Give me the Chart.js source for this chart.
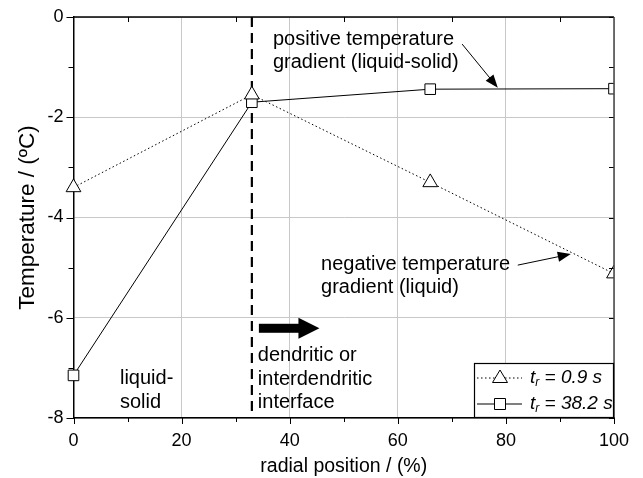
<!DOCTYPE html>
<html>
<head>
<meta charset="utf-8">
<script src="https://cdn.jsdelivr.net/npm/chart.js@4/dist/chart.umd.min.js"></script>
<style>
  html, body { margin: 0; padding: 0; background: #fff; }
  canvas { display: block; }
</style>
</head>
<body>
<canvas id="chart" width="643" height="478"></canvas>
<script>
// radial position (%) of the measuring points
const radialPos = [0, 33, 66, 100];
// t_r = 0.9 s (triangles, dotted)
const tempFast = [-3.4, -1.55, -3.3, -5.12];
// t_r = 38.2 s (squares, solid)
const tempSlow = [-7.15, -1.7, -1.44, -1.43];
// dendritic / interdendritic interface
const interfaceX = [33, 33];
const interfaceY = [0, -8];

const seriesLabels = ['0.9 s', '38.2 s'];

const FONT = '"Liberation Sans", Arial, Helvetica, sans-serif';

const toPoints = (xs, ys) => xs.map((v, i) => ({ x: v, y: ys[i] }));

const arrow = (ctx, x1, y1, x2, y2, len, half) => {
    const ang = Math.atan2(y2 - y1, x2 - x1);
    ctx.beginPath();
    ctx.moveTo(x1, y1);
    ctx.lineTo(x2 - Math.cos(ang) * len * 0.8, y2 - Math.sin(ang) * len * 0.8);
    ctx.stroke();
    ctx.beginPath();
    ctx.moveTo(x2, y2);
    ctx.lineTo(x2 - Math.cos(ang) * len + Math.sin(ang) * half, y2 - Math.sin(ang) * len - Math.cos(ang) * half);
    ctx.lineTo(x2 - Math.cos(ang) * len - Math.sin(ang) * half, y2 - Math.sin(ang) * len + Math.cos(ang) * half);
    ctx.closePath();
    ctx.fill();
};

const notes = [
    { lines: ['positive temperature', 'gradient (liquid-solid)'], at: [36.9, -0.44] },
    { lines: ['negative temperature', 'gradient (liquid)'], at: [45.8, -4.93] },
    { lines: ['liquid-', 'solid'], at: [8.6, -7.22] },
    { lines: ['dendritic or', 'interdendritic', 'interface'], at: [34.1, -6.76] }
];

const pointers = [
    { from: [71.9, -0.54], to: [78.5, -1.41] },
    { from: [82.2, -4.95], to: [92.0, -4.73] }
];

const decor = {
    id: 'decor',
    afterDraw(chart) {
        const { ctx, chartArea: a, scales: { x, y } } = chart;
        ctx.save();
        ctx.strokeStyle = '#000';
        ctx.fillStyle = '#000';
        ctx.lineWidth = 1;
        const seg = (x1, y1, x2, y2) => {
            ctx.beginPath(); ctx.moveTo(x1, y1); ctx.lineTo(x2, y2); ctx.stroke();
        };

        // ticks
        for (let v = 0; v <= 100; v += 10) {
            const px = Math.round(x.getPixelForValue(v)) + 0.5;
            const major = v % 20 === 0;
            seg(px, a.bottom, px, a.bottom + (major ? 6 : 4));
            seg(px, a.top, px, a.top + (major ? 0 : 5));
        }
        for (let v = -8; v <= 0; v += 1) {
            const py = Math.round(y.getPixelForValue(v)) + 0.5;
            const major = v % 2 === 0;
            seg(a.left, py, a.left - (major ? 7 : 5), py);
            seg(a.right, py, a.right - 5, py);
        }

        // top and right frame
        ctx.lineWidth = 1.5;
        seg(a.left, a.top, a.right, a.top);
        ctx.strokeStyle = '#444';
        seg(a.right, a.top, a.right, a.bottom);
        ctx.strokeStyle = '#000';
        ctx.lineWidth = 1;

        // text notes
        ctx.font = '20px ' + FONT;
        ctx.textBaseline = 'middle';
        ctx.textAlign = 'left';
        notes.forEach(n => {
            const px = x.getPixelForValue(n.at[0]);
            const py = y.getPixelForValue(n.at[1]);
            n.lines.forEach((t, i) => ctx.fillText(t, px, py + i * 23.5));
        });

        // pointer arrows
        pointers.forEach(p => {
            arrow(ctx, x.getPixelForValue(p.from[0]), y.getPixelForValue(p.from[1]),
                x.getPixelForValue(p.to[0]), y.getPixelForValue(p.to[1]), 13, 5);
        });

        // big arrow (growth direction)
        const bx1 = x.getPixelForValue(34.3), bx2 = x.getPixelForValue(45.5);
        const by = y.getPixelForValue(-6.21);
        ctx.fillRect(bx1, by - 4.5, bx2 - bx1 - 19, 9);
        ctx.beginPath();
        ctx.moveTo(bx2, by);
        ctx.lineTo(bx2 - 21, by - 10.5);
        ctx.lineTo(bx2 - 21, by + 10.5);
        ctx.closePath();
        ctx.fill();

        // legend box
        const lw = 140, lh = 55;
        const lx = a.right - lw, ly = a.bottom - lh;
        ctx.fillStyle = '#fff';
        ctx.fillRect(lx, ly, lw, lh);
        ctx.strokeStyle = '#000';
        ctx.lineWidth = 1.2;
        ctx.strokeRect(lx + 0.5, ly + 0.5, lw - 1, lh - 1);
        ctx.lineWidth = 1;
        const rows = [ly + 15, ly + 41];
        chart.data.datasets.slice(0, 2).forEach((ds, i) => {
            const ry = rows[i];
            ctx.setLineDash(ds.borderDash || []);
            seg(lx + 3, ry, lx + 48, ry);
            ctx.setLineDash([]);
            const mx = lx + 26;
            ctx.fillStyle = '#fff';
            ctx.beginPath();
            if (ds.pointStyle === 'triangle') {
                ctx.moveTo(mx, ry - 8);
                ctx.lineTo(mx + 7.5, ry + 4.5);
                ctx.lineTo(mx - 7.5, ry + 4.5);
                ctx.closePath();
            } else {
                ctx.rect(mx - 5.5, ry - 5.5, 11, 11);
            }
            ctx.fill();
            ctx.stroke();
            ctx.fillStyle = '#000';
            let tx = lx + 56;
            ctx.font = 'italic 19px ' + FONT;
            ctx.fillText('t', tx, ry);
            tx += ctx.measureText('t').width;
            ctx.font = 'italic 12px ' + FONT;
            ctx.fillText('r', tx, ry + 5);
            tx += ctx.measureText('r').width;
            ctx.font = 'italic 19px ' + FONT;
            ctx.fillText(' = ' + seriesLabels[i], tx, ry);
        });
        ctx.restore();
    }
};

new Chart(document.getElementById('chart'), {
    type: 'line',
    data: {
        datasets: [
            {
                label: 't_r = ' + seriesLabels[0],
                data: toPoints(radialPos, tempFast),
                borderColor: '#000',
                borderWidth: 1,
                borderDash: [1.5, 2.5],
                pointStyle: 'triangle',
                pointRadius: 8.5,
                pointBackgroundColor: '#fff',
                pointBorderColor: '#000',
                pointBorderWidth: 1,
                tension: 0,
                clip: { left: 20, top: 20, right: 0, bottom: 20 }
            },
            {
                label: 't_r = ' + seriesLabels[1],
                data: toPoints(radialPos, tempSlow),
                borderColor: '#000',
                borderWidth: 1,
                pointStyle: 'rect',
                pointRadius: 7.5,
                pointBackgroundColor: '#fff',
                pointBorderColor: '#000',
                pointBorderWidth: 1,
                tension: 0,
                clip: { left: 20, top: 20, right: 0, bottom: 20 }
            },
            {
                label: 'interface',
                data: toPoints(interfaceX, interfaceY),
                borderColor: '#000',
                borderWidth: 2.2,
                borderDash: [10, 6],
                pointRadius: 0,
                tension: 0
            }
        ]
    },
    options: {
        responsive: false,
        devicePixelRatio: 1,
        animation: false,
        layout: { padding: { top: 0, right: 29, left: 0, bottom: 0 } },
        plugins: {
            legend: { display: false },
            tooltip: { enabled: false }
        },
        scales: {
            x: {
                type: 'linear',
                min: 0,
                max: 100,
                ticks: {
                    stepSize: 20,
                    color: '#000',
                    padding: 12,
                    font: { family: FONT, size: 18 }
                },
                grid: { color: '#c8c8c8', lineWidth: 1, drawTicks: false },
                border: { display: true, color: '#000', width: 1.5 },
                title: {
                    display: true,
                    text: 'radial position / (%)',
                    color: '#000',
                    font: { family: FONT, size: 19.5 },
                    padding: { top: 4, bottom: 0 }
                },
                afterFit: s => { s.height = 60; }
            },
            y: {
                type: 'linear',
                min: -8,
                max: 0,
                ticks: {
                    stepSize: 2,
                    color: '#000',
                    padding: 10,
                    font: { family: FONT, size: 18 }
                },
                grid: { color: '#c8c8c8', lineWidth: 1, drawTicks: false },
                border: { display: true, color: '#000', width: 1.5 },
                title: {
                    display: true,
                    text: 'Temperature / (ºC)',
                    color: '#000',
                    font: { family: FONT, size: 22.5 },
                    padding: { top: 14, bottom: 0 }
                },
                afterFit: s => { s.width = 73.5; s.paddingTop = 17; s.paddingBottom = 0; }
            }
        }
    },
    plugins: [decor]
});
</script>
</body>
</html>
